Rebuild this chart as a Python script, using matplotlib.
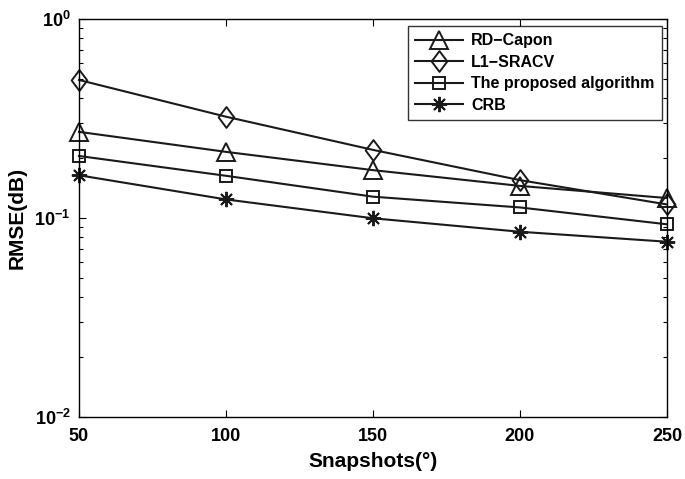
import numpy as np
import matplotlib
matplotlib.use('Agg')
import matplotlib.pyplot as plt
from matplotlib.ticker import LogLocator, NullFormatter
from matplotlib.path import Path

plt.rcParams['font.family'] = ['Liberation Sans', 'DejaVu Sans']
plt.rcParams['font.weight'] = 'bold'

# Data
snapshots = [50, 100, 150, 200, 250]
rd_capon = [0.271, 0.215, 0.174, 0.145, 0.126]
l1_sracv = [0.494, 0.323, 0.220, 0.155, 0.117]
proposed = [0.205, 0.163, 0.128, 0.113, 0.093]
crb = [0.164, 0.124, 0.0997, 0.0853, 0.076]

labels = ['RD\u2212Capon', 'L1\u2212SRACV', 'The proposed algorithm', 'CRB']

# matlab-like diamond (a bit taller than wide)
diamond = Path([(0, 1), (0.75, 0), (0, -1), (-0.75, 0), (0, 1)],
               [Path.MOVETO, Path.LINETO, Path.LINETO, Path.LINETO, Path.CLOSEPOLY])
markers = ['^', diamond, 's', (8, 2, 0)]
msizes = [13, 15, 9, 11]

fig = plt.figure(figsize=(6.85, 4.79), dpi=100)
ax = fig.add_axes([0.1153, 0.1294, 0.8584, 0.8309])

for y, lab, m, ms in zip([rd_capon, l1_sracv, proposed, crb], labels, markers, msizes):
    ax.plot(snapshots, y, color='#1a1a1a', lw=1.5, marker=m, ms=ms,
            mfc='none', mec='#1a1a1a', mew=1.4, label=lab, clip_on=False)

ax.set_yscale('log')
ax.set_xlim(50, 250)
ax.set_ylim(1e-2, 1e0)
ax.set_xticks(snapshots)
ax.yaxis.set_major_locator(LogLocator(base=10, numticks=5))
ax.yaxis.set_minor_locator(LogLocator(base=10, subs=np.arange(2, 10), numticks=20))
ax.yaxis.set_minor_formatter(NullFormatter())

ax.tick_params(which='both', direction='in', top=True, right=True, width=0.8)
ax.tick_params(which='major', length=5, labelsize=13)
ax.tick_params(axis='x', which='major', pad=8)
ax.tick_params(axis='y', which='major', pad=6)
ax.tick_params(which='minor', length=3)
for lbl in ax.get_xticklabels() + ax.get_yticklabels():
    lbl.set_fontweight('bold')
for sp in ax.spines.values():
    sp.set_linewidth(1.0)

ax.set_xlabel('Snapshots(\u00b0)', fontsize=15, fontweight='bold', labelpad=5)
ax.set_ylabel('RMSE(dB)', fontsize=15, fontweight='bold', labelpad=6)

leg = ax.legend(loc='upper right', bbox_to_anchor=(0.9966, 0.99), fontsize=11.5,
                frameon=True, fancybox=False, edgecolor='black', handlelength=3.0,
                borderpad=0.45, labelspacing=0.4, handletextpad=0.5, borderaxespad=0.2)
leg.get_frame().set_linewidth(1.0)
for t in leg.get_texts():
    t.set_fontweight('bold')

fig.savefig('out.png', dpi=100)
